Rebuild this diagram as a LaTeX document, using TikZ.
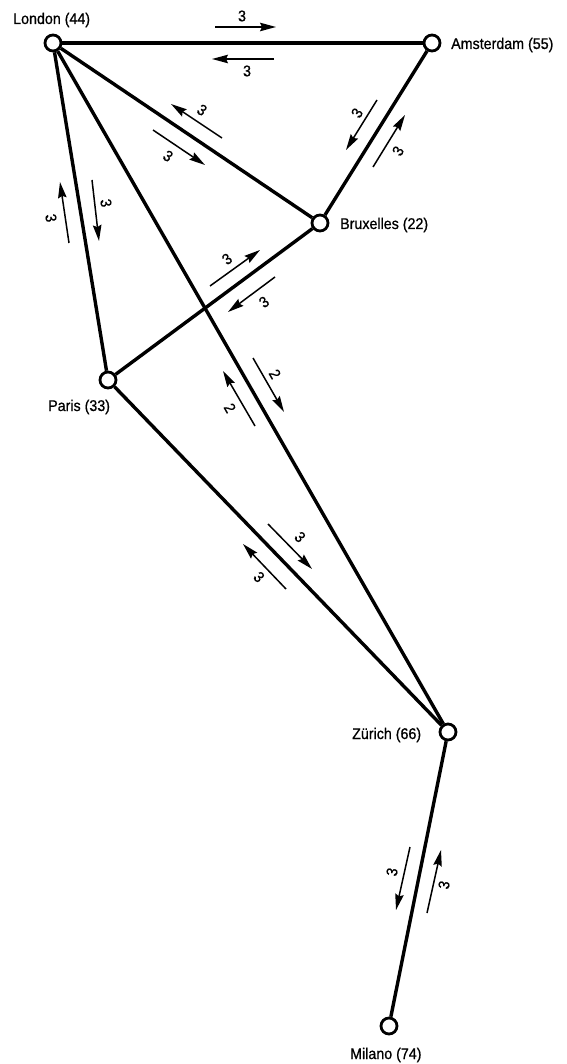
\documentclass[tikz,border=0pt]{standalone}
\usepackage{fontspec}
\setmainfont[FakeStretch=0.92,FakeBold=0.8]{Liberation Sans}
\usetikzlibrary{arrows.meta}
\begin{document}
\begin{tikzpicture}[x=1pt,y=-1pt,
  city/.style={circle, draw, line width=2.8pt, fill=white, minimum size=16pt, inner sep=0pt},
  route/.style={line width=3.4pt},
  flow/.style={line width=1.5pt, -{Stealth[length=16pt,width=8.5pt,inset=2pt]}},
  lab/.style={font=\fontsize{15.5}{18}\selectfont, inner sep=0pt, anchor=base west},
  num/.style={font=\fontsize{15.5}{18}\selectfont, inner sep=0pt}]
\useasboundingbox (0,0) rectangle (566,1064);
% cities
\node[city] (lon) at (53,43) {};
\node[city] (ams) at (432,43) {};
\node[city] (bru) at (320,223) {};
\node[city] (par) at (108,380) {};
\node[city] (zur) at (448,732) {};
\node[city] (mil) at (389,1026) {};
% routes
\draw[route] (lon) -- (ams);
\draw[route] (lon) -- (bru);
\draw[route] (lon) -- (par);
\draw[route] (lon) -- (zur);
\draw[route] (ams) -- (bru);
\draw[route] (bru) -- (par);
\draw[route] (par) -- (zur);
\draw[route] (zur) -- (mil);
% city labels
\node[lab] (tlon) at (13,24) {London (44)};
\node[lab] (tams) at (451,49) {Amsterdam (55)};
\node[lab] (tbru) at (340,229) {Bruxelles (22)};
\node[lab] (tpar) at (48,411) {Paris (33)};
\node[lab] (tzur) at (352,739) {Zürich (66)};
\node[lab] (tmil) at (350,1059) {Milano (74)};
% flow arrows: London - Amsterdam
\coordinate (la1s) at (215,27); \coordinate (la1e) at (276,27);
\coordinate (la2s) at (274,59); \coordinate (la2e) at (212,59);
\draw[flow] (la1s) -- (la1e);
\draw[flow] (la2s) -- (la2e);
\node[num] (nla1) at (242,16) {3};
\node[num] (nla2) at (247,71) {3};
% London - Bruxelles
\coordinate (lb1s) at (222,138); \coordinate (lb1e) at (171,104);
\coordinate (lb2s) at (153,130); \coordinate (lb2e) at (205,165);
\draw[flow] (lb1s) -- (lb1e);
\draw[flow] (lb2s) -- (lb2e);
\node[num, rotate=-34] (nlb1) at (202,110) {3};
\node[num, rotate=-34] (nlb2) at (168,156) {3};
% Amsterdam - Bruxelles
\coordinate (ab1s) at (377,100); \coordinate (ab1e) at (346,150);
\coordinate (ab2s) at (373,167); \coordinate (ab2e) at (405,115);
\draw[flow] (ab1s) -- (ab1e);
\draw[flow] (ab2s) -- (ab2e);
\node[num, rotate=58] (nab1) at (357,113) {3};
\node[num, rotate=58] (nab2) at (398,151) {3};
% London - Paris
\coordinate (lp1s) at (69,243); \coordinate (lp1e) at (60,182);
\coordinate (lp2s) at (92,180); \coordinate (lp2e) at (99,241);
\draw[flow] (lp1s) -- (lp1e);
\draw[flow] (lp2s) -- (lp2e);
\node[num, rotate=-80.7] (nlp1) at (51,218) {3};
\node[num, rotate=-80.7] (nlp2) at (106,203) {3};
% Bruxelles - Paris
\coordinate (bp1s) at (210,286); \coordinate (bp1e) at (260,250);
\coordinate (bp2s) at (275,277); \coordinate (bp2e) at (228,312);
\draw[flow] (bp1s) -- (bp1e);
\draw[flow] (bp2s) -- (bp2e);
\node[num, rotate=36.5] (nbp1) at (227,259) {3};
\node[num, rotate=36.5] (nbp2) at (264,302) {3};
% London - Zurich
\coordinate (lz1s) at (255,426); \coordinate (lz1e) at (223,371);
\coordinate (lz2s) at (253,358); \coordinate (lz2e) at (284,412);
\draw[flow] (lz1s) -- (lz1e);
\draw[flow] (lz2s) -- (lz2e);
\node[num, rotate=-60] (nlz1) at (230,408) {2};
\node[num, rotate=-60] (nlz2) at (275,374) {2};
% Paris - Zurich
\coordinate (pz1s) at (268,524); \coordinate (pz1e) at (312,569);
\coordinate (pz2s) at (286,589); \coordinate (pz2e) at (243,544);
\draw[flow] (pz1s) -- (pz1e);
\draw[flow] (pz2s) -- (pz2e);
\node[num, rotate=-46] (npz1) at (300,537) {3};
\node[num, rotate=-46] (npz2) at (259,577) {3};
% Zurich - Milano
\coordinate (zm1s) at (410,847); \coordinate (zm1e) at (396,910);
\coordinate (zm2s) at (427,913); \coordinate (zm2e) at (441,850);
\draw[flow] (zm1s) -- (zm1e);
\draw[flow] (zm2s) -- (zm2e);
\node[num, rotate=78.7] (nzm1) at (392,872) {3};
\node[num, rotate=78.7] (nzm2) at (444,885) {3};
\end{tikzpicture}
\end{document}
